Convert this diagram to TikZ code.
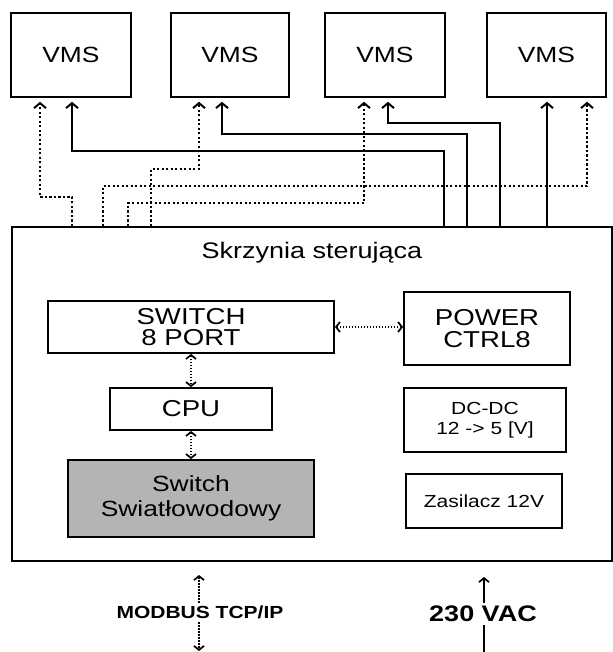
\documentclass[tikz,border=0pt]{standalone}
\usepackage{fontspec}
\setmainfont{Liberation Sans}[FakeStretch=1.2]
\usetikzlibrary{arrows.meta}
\definecolor{boxGray}{RGB}{180,180,180}

\begin{document}
\begin{tikzpicture}[x=1pt, y=-1pt,
    box/.style={draw, line width=1.8pt, inner sep=0pt, align=center},
    pwr/.style={line width=1.5pt, -{Straight Barb[length=5pt, width=12pt, line width=2pt]}, shorten >=4pt},
    dat/.style={line width=1.9pt, dash pattern=on 2.3pt off 2.2pt, -{Straight Barb[length=5pt, width=12pt, line width=2pt]}, shorten >=4pt},
    link/.style={line width=1.3pt, dash pattern=on 1.6pt off 1.4pt, {Straight Barb[length=4pt, width=10pt, line width=1.7pt]}-{Straight Barb[length=4pt, width=10pt, line width=1.7pt]}}]
        \useasboundingbox (0,0) rectangle (612,652);
        % VMS boards
        \node[box, anchor=north west, minimum width=120pt, minimum height=84pt, font=\fontsize{22}{24}\selectfont] (v1) at (10,12) {VMS};
        \node[box, anchor=north west, minimum width=118pt, minimum height=84pt, font=\fontsize{22}{24}\selectfont] (v2) at (170,12) {VMS};
        \node[box, anchor=north west, minimum width=120pt, minimum height=84pt, font=\fontsize{22}{24}\selectfont] (v3) at (324,12) {VMS};
        \node[box, anchor=north west, minimum width=119pt, minimum height=84pt, font=\fontsize{22}{24}\selectfont] (v4) at (486,12) {VMS};
        % control cabinet
        \node[box, anchor=north west, minimum width=600pt, minimum height=334pt] (skrz) at (11,226) {};
        \node[font=\fontsize{22.5}{24}\selectfont] (tytul) at (312,253) {Skrzynia sterująca};
        \node[box, minimum width=286pt, minimum height=52pt, font=\fontsize{23}{21}\selectfont] (sw) at (191,327) {SWITCH\\8 PORT};
        \node[box, minimum width=166pt, minimum height=73pt, font=\fontsize{23}{22}\selectfont] (pctrl) at (487,328.5) {POWER\\CTRL8};
        \node[box, minimum width=162pt, minimum height=42pt, font=\fontsize{23}{24}\selectfont] (cpu) at (191,409) {CPU};
        \node[box, minimum width=162pt, minimum height=64pt, font=\fontsize{17.5}{20}\selectfont] (dcdc) at (485,420) {DC-DC\\12 -> 5 [V]};
        \node[box, fill=boxGray, minimum width=246pt, minimum height=77pt, font=\fontsize{22}{25}\selectfont] (swo) at (191,498.5) {Switch\\Swiatłowodowy};
        \node[box, minimum width=156pt, minimum height=54pt, font=\fontsize{17.5}{20}\selectfont] (zas) at (484,501) {Zasilacz 12V};
        % exits on top of the cabinet
        \coordinate (d1) at (72,226);
        \coordinate (d2) at (151,226);
        \coordinate (d3) at (128,226);
        \coordinate (d4) at (103,226);
        \coordinate (p1) at (444,226);
        \coordinate (p2) at (467,226);
        \coordinate (p3) at (500,226);
        \coordinate (p4) at (547,226);
        % power lines
        \draw[pwr] (p1) |- (72,151) -- (v1.south -| 72,0);
        \draw[pwr] (p2) |- (222,134) -- (v2.south -| 222,0);
        \draw[pwr] (p3) |- (388,123) -- (v3.south -| 388,0);
        \draw[pwr] (p4) -- (v4.south -| p4);
        % data lines
        \draw[dat] (d1) |- (40,197) -- (v1.south -| 40,0);
        \draw[dat] (d2) |- (199,169) -- (v2.south -| 199,0);
        \draw[dat] (d3) |- (364,203) -- (v3.south -| 364,0);
        \draw[dat] (d4) |- (587,186) -- (v4.south -| 587,0);
        % inside links
        \draw[link] (sw.east) -- (pctrl.west |- sw.east);
        \draw[link] (sw.south) -- (cpu.north);
        \draw[link] (cpu.south) -- (swo.north);
        % outside
        \coordinate (mtop) at (199,575);
        \coordinate (mbot) at (199,651);
        \coordinate (atop) at (484,577);
        \coordinate (abot) at (484,652);
        \draw[link] (mtop) -- (mbot);
        \draw[line width=1.3pt, -{Straight Barb[length=4pt, width=10pt, line width=1.7pt]}] (abot) -- (atop);
        \node[fill=white, inner sep=2pt, font=\bfseries\fontsize{17.5}{20}\selectfont] (modbus) at (200,612) {MODBUS TCP/IP};
        \node[fill=white, inner sep=3pt, font=\bfseries\fontsize{22.5}{24}\selectfont] (vac) at (483,614) {230 VAC};
\end{tikzpicture}
\end{document}
